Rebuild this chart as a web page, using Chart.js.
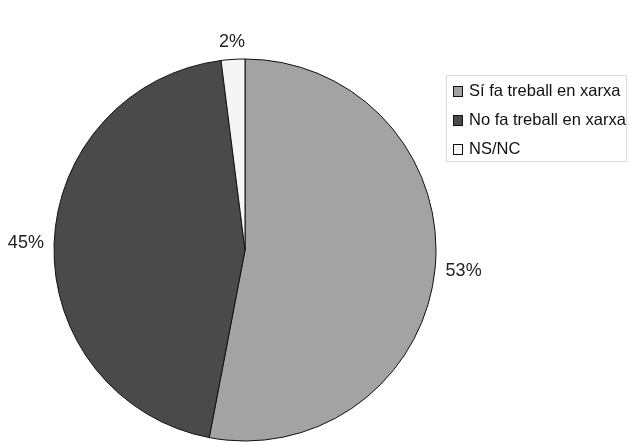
<!DOCTYPE html>
<html>
<head>
<meta charset="utf-8">
<script src="https://cdn.jsdelivr.net/npm/chart.js@4"></script>
<style>
    body { margin: 0; background: #fff; }
    #wrap { position: relative; width: 630px; height: 443px; }
    #legend {
        position: absolute; left: 446px; top: 75px; width: 181px; height: 87px;
        border: 1px solid #dcdcdc; box-sizing: border-box;
        font-family: "Liberation Sans", Arial, sans-serif; font-size: 16.5px; color: #111;
        white-space: nowrap;
    }
    .row { position: absolute; left: 6px; height: 20px; line-height: 20px; }
    .sw { display: inline-block; width: 8px; height: 9px; border: 1px solid #111; margin-right: 6px; vertical-align: -1px; }
</style>
</head>
<body>
<div id="wrap">
    <canvas id="pie" width="630" height="443"></canvas>
    <div id="legend"></div>
</div>
<script>
const categories = ['Sí fa treball en xarxa', 'No fa treball en xarxa', 'NS/NC'];
const values = [53, 45, 2];
const labels = ['53%', '45%', '2%'];
const colors = ['#a3a3a3', '#4a4a4a', '#f5f5f5'];

// legend built by hand so it can sit in its box like the original
const legend = document.getElementById('legend');
categories.forEach((c, i) => {
    const row = document.createElement('div');
    row.className = 'row';
    row.style.top = (4 + i * 29) + 'px';
    row.innerHTML = `<span class="sw" style="background:${colors[i]}"></span>${c}`;
    legend.appendChild(row);
});

const outsideLabels = {
    id: 'outsideLabels',
    afterDatasetsDraw(chart) {
        const ctx = chart.ctx;
        const meta = chart.getDatasetMeta(0);
        ctx.save();
        ctx.font = '18px "Liberation Sans", Arial, sans-serif';
        ctx.fillStyle = '#222';
        ctx.textAlign = 'center';
        ctx.textBaseline = 'middle';
        meta.data.forEach((arc, i) => {
            const p = arc.getProps(['x', 'y', 'startAngle', 'endAngle', 'outerRadius'], true);
            const mid = (p.startAngle + p.endAngle) / 2;
            const c = Math.cos(mid), s = Math.sin(mid);
            const hw = ctx.measureText(labels[i]).width / 2, hh = 7;
            const d = p.outerRadius + 10 + Math.abs(c) * hw + Math.abs(s) * hh;
            ctx.fillText(labels[i], p.x + c * d, p.y + s * d);
        });
        ctx.restore();
    }
};

new Chart(document.getElementById('pie').getContext('2d'), {
    type: 'pie',
    data: {
        labels: categories,
        datasets: [{
            data: values,
            backgroundColor: colors,
            borderColor: '#111',
            borderWidth: 1
        }]
    },
    options: {
        responsive: false,
        animation: false,
        radius: 191,
        layout: { padding: { left: 54, right: 194, top: 59, bottom: 2 } },
        plugins: { legend: { display: false }, tooltip: { enabled: false } }
    },
    plugins: [outsideLabels]
});
</script>
</body>
</html>
